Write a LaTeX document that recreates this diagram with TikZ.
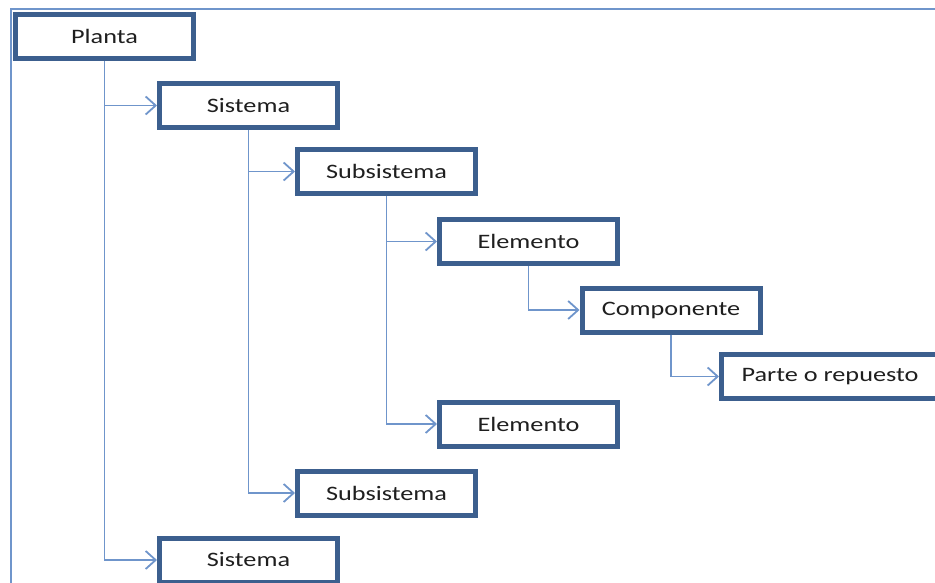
\documentclass[tikz,border=0pt]{standalone}
\usepackage{fontspec}
\setmainfont{Carlito}
\usepackage{graphicx}
\usetikzlibrary{arrows.meta}

\definecolor{boxBlue}{HTML}{3C5F8E}
\definecolor{lineBlue}{HTML}{6F95CB}
\newcommand{\wide}[1]{\scalebox{1.28}[1]{#1}}

\begin{document}
\begin{tikzpicture}[x = 1pt, y = -1pt, font=\fontsize{20.5}{24}\selectfont]
	\tikzstyle{boxStyle}=[shape = rectangle, draw = boxBlue, line width = 5pt, fill = white, text = black!88, minimum width = 178pt, minimum height = 44pt, inner sep = 0pt, outer sep = 2.5pt]
	\tikzstyle{arrowStyle}=[draw = lineBlue, line width = 1.8pt, -{Straight Barb[length = 10pt, width = 18pt, line width = 1.8pt]}]
	\clip (0,0) rectangle (935,583);
	\useasboundingbox (0,0) rectangle (935,583);
	\draw[lineBlue, line width = 2pt] (11,583) -- (11,9) -- (935,9);
	\node[boxStyle] (planta) at (104.5,36.5) {\wide{Planta}};
	\node[boxStyle] (sis1) at (248.5,105.5) {\wide{Sistema}};
	\node[boxStyle] (sub1) at (386.5,171.5) {\wide{Subsistema}};
	\node[boxStyle] (ele1) at (528.5,241.5) {\wide{Elemento}};
	\node[boxStyle] (comp) at (671,310) {\wide{Componente}};
	\node[boxStyle, minimum width = 217pt] (parte) at (830,376.5) {\wide{Parte o repuesto}};
	\node[boxStyle] (ele2) at (528.5,424) {\wide{Elemento}};
	\node[boxStyle] (sub2) at (386.5,493) {\wide{Subsistema}};
	\node[boxStyle] (sis2) at (248.5,560) {\wide{Sistema}};
	\draw[arrowStyle] (planta.south) |- (sis1);
	\draw[arrowStyle] (planta.south) |- (sis2);
	\draw[arrowStyle] (sis1.south) |- (sub1);
	\draw[arrowStyle] (sis1.south) |- (sub2);
	\draw[arrowStyle] (sub1.south) |- (ele1);
	\draw[arrowStyle] (sub1.south) |- (ele2);
	\draw[arrowStyle] (ele1.south) |- (comp);
	\draw[arrowStyle] (comp.south) |- (parte);
\end{tikzpicture}
\end{document}
